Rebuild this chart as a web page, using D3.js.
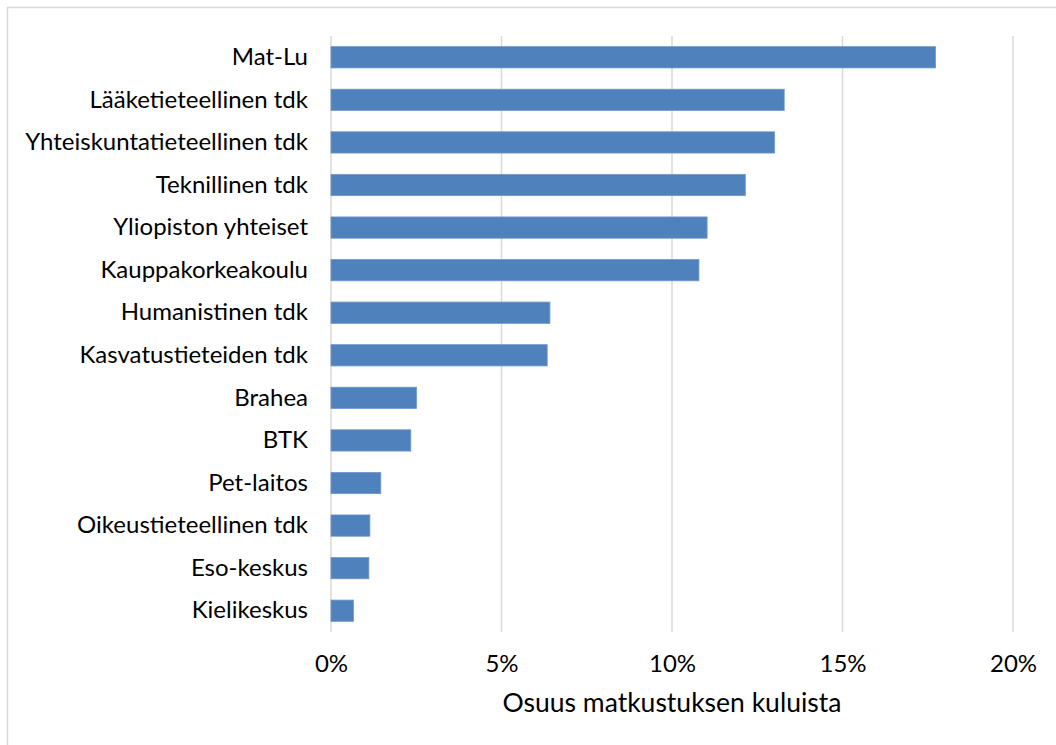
<!DOCTYPE html>
<html>
<head>
<meta charset="utf-8">
<script src="https://cdn.jsdelivr.net/npm/d3@7"></script>
<style>
  html, body { margin: 0; padding: 0; background: #fff; }
  svg { display: block; font-family: Lato, "Open Sans", sans-serif; }
</style>
</head>
<body>
<svg id="chart" width="1056" height="745"></svg>
<script>
// Yksiköiden osuudet matkustuskuluista (%)
const units = [
  "Mat-Lu", "Lääketieteellinen tdk", "Yhteiskuntatieteellinen tdk", "Teknillinen tdk",
  "Yliopiston yhteiset", "Kauppakorkeakoulu", "Humanistinen tdk", "Kasvatustieteiden tdk",
  "Brahea", "BTK", "Pet-laitos", "Oikeustieteellinen tdk", "Eso-keskus", "Kielikeskus"
];
const shares = [17.73, 13.29, 13.01, 12.15, 11.03, 10.79, 6.42, 6.34, 2.51, 2.34, 1.46, 1.14, 1.11, 0.66];
const tickValues = [0, 5, 10, 15, 20];
const axisTitle = "Osuus matkustuksen kuluista";

const svg = d3.select("#chart");
const W = 1056, H = 745;
const plot = { left: 331, right: 1013, top: 36, bottom: 632 };

// Kehys (vain ylä- ja vasen reuna näkyvät)
svg.append("rect")
  .attr("x", 7.5).attr("y", 7.5)
  .attr("width", W + 20).attr("height", H + 20)
  .attr("fill", "none").attr("stroke", "#d9d9d9").attr("stroke-width", 1.5);

const x = d3.scaleLinear().domain([0, 20]).range([plot.left, plot.right]);
const y = d3.scaleBand().domain(units).range([plot.top, plot.bottom]).paddingInner(0.5).paddingOuter(0.25);

// Pystysuuntaiset apuviivat
svg.append("g").selectAll("line")
  .data(tickValues)
  .join("line")
  .attr("x1", d => x(d)).attr("x2", d => x(d))
  .attr("y1", plot.top).attr("y2", plot.bottom)
  .attr("stroke", "#d9d9d9").attr("stroke-width", 1.5);

// Palkit
svg.append("g").selectAll("rect")
  .data(units.map((u, i) => ({ u, v: shares[i] })))
  .join("rect")
  .attr("x", x(0))
  .attr("y", d => y(d.u))
  .attr("width", d => x(d.v) - x(0))
  .attr("height", y.bandwidth())
  .attr("fill", "#4f81bd")
  .attr("stroke", "#6f99cc").attr("stroke-width", 0.8);

// Luokka-akseli
const yAxis = svg.append("g")
  .attr("transform", `translate(${plot.left - 23},0)`)
  .call(d3.axisLeft(y).tickSize(0).tickPadding(0));
yAxis.select(".domain").remove();
yAxis.selectAll("text")
  .attr("font-size", 24).attr("fill", "#000")
  .attr("font-family", "Lato, sans-serif");

// Arvoakseli
const xAxis = svg.append("g")
  .attr("transform", `translate(0,${plot.bottom})`)
  .call(d3.axisBottom(x).tickValues(tickValues).tickFormat(d => d + "%").tickSize(0).tickPadding(23));
xAxis.select(".domain").remove();
xAxis.selectAll("text")
  .attr("font-size", 24).attr("fill", "#000")
  .attr("font-family", "Lato, sans-serif");

svg.append("text")
  .attr("x", (plot.left + plot.right) / 2)
  .attr("y", 712)
  .attr("text-anchor", "middle")
  .attr("font-size", 26.5).attr("fill", "#000")
  .text(axisTitle);
</script>
</body>
</html>
